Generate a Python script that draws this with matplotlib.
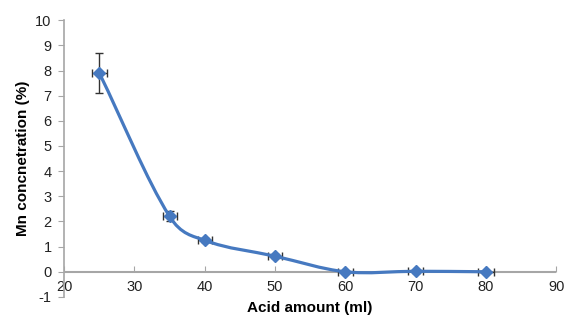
import matplotlib
matplotlib.use("Agg")
import matplotlib.pyplot as plt
from matplotlib.path import Path
from matplotlib.patches import PathPatch

# data
acid_ml = [25, 35, 40, 50, 60, 70, 80]
mn_conc = [7.9, 2.2, 1.25, 0.62, 0.0, 0.02, 0.0]
y_err = [0.8, 0.2, 0.08, 0.08, 0.05, 0.05, 0.05]
x_err = [1.1, 1.0, 1.0, 1.0, 1.1, 1.1, 1.1]
x_ticks = [20, 30, 40, 50, 60, 70, 80, 90]
y_ticks = list(range(-1, 11))

blue = "#4679c0"
grey = "#a6a6a6"

plt.rcParams['font.family'] = ['Liberation Sans', 'DejaVu Sans']
plt.rcParams['axes.unicode_minus'] = False

fig = plt.figure(figsize=(5.68, 3.21), dpi=100)
ax = fig.add_axes([0.113, 0.075, 0.866, 0.862])

# smoothed line through the points (cubic hermite, tangents from neighbours)
n = len(acid_ml)
slopes = []
for i in range(n):
    a = max(i - 1, 0)
    b = min(i + 1, n - 1)
    slopes.append((mn_conc[b] - mn_conc[a]) / (acid_ml[b] - acid_ml[a]))
verts = [(acid_ml[0], mn_conc[0])]
codes = [Path.MOVETO]
for i in range(n - 1):
    h = (acid_ml[i + 1] - acid_ml[i]) / 3
    verts.append((acid_ml[i] + h, mn_conc[i] + slopes[i] * h))
    verts.append((acid_ml[i + 1] - h, mn_conc[i + 1] - slopes[i + 1] * h))
    verts.append((acid_ml[i + 1], mn_conc[i + 1]))
    codes += [Path.CURVE4] * 3
ax.add_patch(PathPatch(Path(verts, codes), facecolor='none', edgecolor=blue,
                       lw=2.3, zorder=3, capstyle='round'))

ax.errorbar(acid_ml, mn_conc, yerr=y_err, xerr=x_err, fmt='none',
            ecolor='#333333', elinewidth=1.0, capsize=3, capthick=1.0, zorder=2)
ax.plot(acid_ml, mn_conc, linestyle='none', marker='D', markersize=6,
        color=blue, zorder=4)

ax.set_xlim(20, 90)
ax.set_ylim(-1, 10)
ax.set_yticks(y_ticks)
ax.set_xticks(x_ticks)

for s in ['top', 'right', 'bottom']:
    ax.spines[s].set_visible(False)
ax.spines['left'].set_color(grey)
ax.spines['left'].set_linewidth(1.2)
ax.axhline(0, color=grey, lw=1.5, zorder=1)

ax.tick_params(axis='y', direction='out', length=4, color=grey,
               labelsize=10.5, pad=5, labelcolor='#222222')
ax.tick_params(axis='x', length=0, labelsize=10.5, pad=-12, labelcolor='#222222')

sec = ax.secondary_xaxis(1 / 11)
sec.set_xticks(x_ticks)
sec.tick_params(direction='in', length=4, color=grey, labelbottom=False,
                labeltop=False)
for s in sec.spines.values():
    s.set_visible(False)

ax.set_xlabel("Acid amount (ml)", fontsize=11, fontweight='bold', labelpad=3)
ax.set_ylabel("Mn concnetration (%)", fontsize=11, fontweight='bold', labelpad=4)

fig.savefig("out.png", dpi=100)
